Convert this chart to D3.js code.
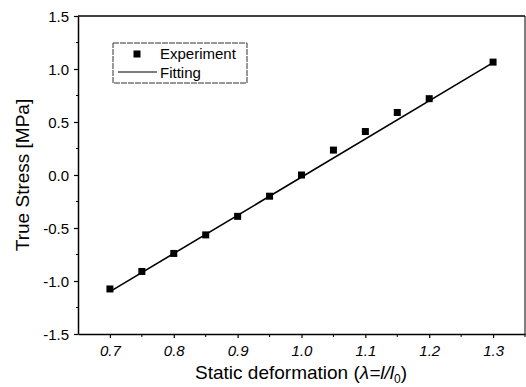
<html>
<meta charset="utf-8" />
<head>
<title>True stress vs static deformation</title>
<script src="https://cdn.jsdelivr.net/npm/d3@7"></script>
<style>
	body { margin: 0; background: #fff; }
	text { font-family: Arial, "Liberation Sans", sans-serif; fill: #000; }
</style>
</head>
<body>
<svg width="526" height="387"></svg>
<script>
const stretch = [0.7, 0.75, 0.8, 0.85, 0.9, 0.95, 1.0, 1.05, 1.1, 1.15, 1.2, 1.3];
const stress = [-1.075, -0.91, -0.74, -0.565, -0.39, -0.2, 0.0, 0.235, 0.41, 0.59, 0.72, 1.065];
// linear fit, end points
const fitX = [0.7, 1.3];
const fitY = [-1.1, 1.06];
const xTicks = [0.7, 0.8, 0.9, 1.0, 1.1, 1.2, 1.3];
const yTicks = [-1.5, -1.0, -0.5, 0.0, 0.5, 1.0, 1.5];

let svg = d3.select('svg');
let pL = 78, pR = 525, pT = 16, pB = 334;

let x = d3.scaleLinear().domain([0.65, 1.35]).range([pL, pR]);
let y = d3.scaleLinear().domain([-1.5, 1.5]).range([pB, pT]);

// minor ticks
let xMinor = d3.range(0.75, 1.36, 0.1);
let yMinor = d3.range(-1.25, 1.3, 0.5);

let fmt = d => d3.format('.1f')(d).replace('−', '-');

let xAxis = d3.axisBottom(x).tickValues(xTicks).tickFormat(fmt).tickSize(4).tickSizeOuter(0);
let yAxis = d3.axisLeft(y).tickValues(yTicks).tickFormat(fmt).tickSize(4).tickSizeOuter(0);

let gx = svg.append('g').attr('transform', 'translate(0,' + pB + ')').call(xAxis);
gx.selectAll('text').attr('dy', null).attr('y', 22)
	.style('font-size', '15px').style('font-style', 'italic').style('font-family', 'Arial, "Liberation Sans", sans-serif');

let gy = svg.append('g').attr('transform', 'translate(' + pL + ',0)').call(yAxis);
gy.selectAll('text').attr('x', -9).attr('dy', '0.35em')
	.style('font-size', '15px').style('font-family', 'Arial, "Liberation Sans", sans-serif');

svg.selectAll('.domain').attr('stroke', '#000').attr('stroke-width', 1.5);
svg.selectAll('.tick line').attr('stroke', '#000').attr('stroke-width', 1.2);

svg.append('g').selectAll('line').data(xMinor).enter().append('line')
	.attr('x1', d => x(d)).attr('x2', d => x(d))
	.attr('y1', pB).attr('y2', pB + 3)
	.attr('stroke', '#000').attr('stroke-width', 1);

svg.append('g').selectAll('line').data(yMinor).enter().append('line')
	.attr('x1', pL).attr('x2', pL - 2)
	.attr('y1', d => y(d)).attr('y2', d => y(d))
	.attr('stroke', '#000').attr('stroke-width', 1);

// top and right frame
svg.append('line').attr('x1', pL).attr('x2', pR).attr('y1', pT).attr('y2', pT)
	.attr('stroke', '#000').attr('stroke-width', 1.5);
svg.append('line').attr('x1', pR).attr('x2', pR).attr('y1', pT).attr('y2', pB)
	.attr('stroke', '#000').attr('stroke-width', 1);

// fit line
let fitLine = d3.line().x(d => x(d[0])).y(d => y(d[1]));
svg.append('path')
	.datum(fitX.map((v, i) => [v, fitY[i]]))
	.attr('d', fitLine)
	.attr('fill', 'none').attr('stroke', '#000').attr('stroke-width', 1.6);

// markers
let ms = 7;
svg.append('g').selectAll('rect')
	.data(stretch.map((v, i) => [v, stress[i]]))
	.enter()
	.append('rect')
	.attr('x', d => x(d[0]) - ms / 2)
	.attr('y', d => y(d[1]) - ms / 2)
	.attr('width', ms).attr('height', ms)
	.attr('fill', '#000');

// legend
let lg = svg.append('g');
lg.append('rect').attr('x', 113).attr('y', 43).attr('width', 134).attr('height', 40)
	.attr('fill', 'none').attr('stroke', '#333').attr('stroke-width', 1).attr('stroke-dasharray', '6,1');
lg.append('rect').attr('x', 137 - ms / 2).attr('y', 54 - ms / 2).attr('width', ms).attr('height', ms).attr('fill', '#000');
lg.append('text').attr('x', 160).attr('y', 59).style('font-size', '15px').text('Experiment');
lg.append('line').attr('x1', 118).attr('x2', 157).attr('y1', 72).attr('y2', 72)
	.attr('stroke', '#000').attr('stroke-width', 1.2);
lg.append('text').attr('x', 160).attr('y', 78).style('font-size', '15px').text('Fitting');

// axis titles
svg.append('text')
	.attr('transform', 'translate(29,175) rotate(-90)')
	.attr('text-anchor', 'middle')
	.style('font-size', '19px')
	.text('True Stress [MPa]');

let xt = svg.append('text')
	.attr('x', 301).attr('y', 379)
	.attr('text-anchor', 'middle')
	.style('font-size', '19px');
xt.append('tspan').text('Static deformation (');
xt.append('tspan').style('font-style', 'italic').text('λ=l/l');
xt.append('tspan').style('font-size', '12px').attr('dy', 4).text('0');
xt.append('tspan').attr('dy', -4).text(')');
</script>
</body>
</html>
